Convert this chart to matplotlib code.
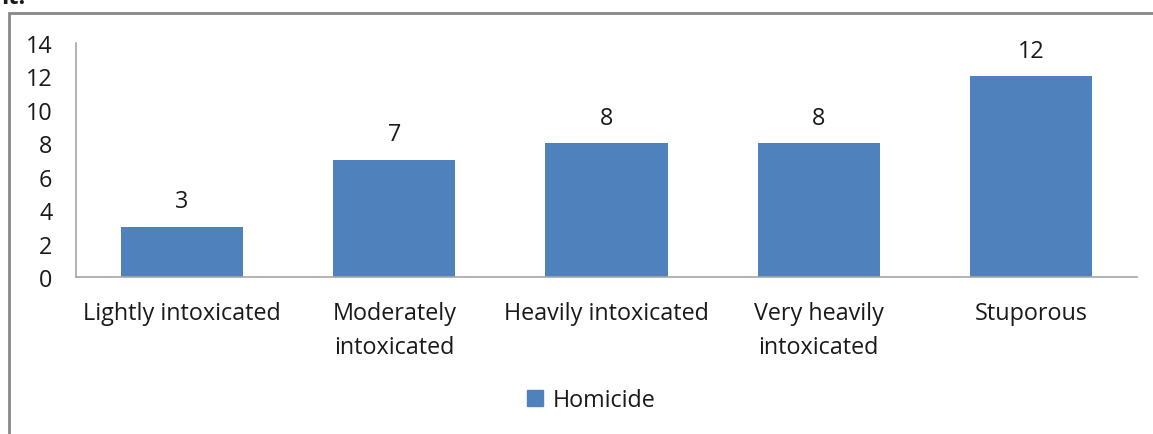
import matplotlib.pyplot as plt
from matplotlib.patches import Rectangle

categories = ["Lightly intoxicated", "Moderately\nintoxicated", "Heavily intoxicated",
              "Very heavily\nintoxicated", "Stuporous"]
homicide = [3, 7, 8, 8, 12]
yticks = [0, 2, 4, 6, 8, 10, 12, 14]

plt.rcParams['font.family'] = ['Open Sans', 'DejaVu Sans']
bar_color = '#4F81BD'
text_color = '#1a1a1a'
fs = 16.8

W, H = 1153, 435
fig = plt.figure(figsize=(W / 100, H / 100), dpi=100)

# outer chart frame (runs past the right and bottom edges of the crop)
fig.patches.append(Rectangle((9 / W, -0.2), 1.2, 1.2 - 14 / H,
                             transform=fig.transFigure, fill=False,
                             edgecolor='#888888', linewidth=2))
fig.text(1 / W, 1.0 + 2 / H, "it.", fontsize=17, fontweight='bold',
         va='center', ha='left', color=text_color)

ax = fig.add_axes([76 / W, 1 - 278 / H, (1137 - 76) / W, (278 - 44) / H])
x = range(len(categories))
bars = ax.bar(x, homicide, width=0.575, color=bar_color, zorder=2)
ax.set_xlim(-0.5, len(categories) - 0.5)
ax.set_ylim(0, 14)
ax.set_yticks(yticks)
ax.set_xticks(list(x))
ax.set_xticklabels(categories, fontsize=fs, color=text_color, linespacing=1.55)
ax.tick_params(axis='y', length=0, pad=17, labelsize=fs, labelcolor=text_color)
ax.tick_params(axis='x', length=0, pad=17)

for spine in ['top', 'right']:
    ax.spines[spine].set_visible(False)
for spine in ['left', 'bottom']:
    ax.spines[spine].set_color('#a6a6a6')
    ax.spines[spine].set_linewidth(1.2)

for b, v in zip(bars, homicide):
    ax.annotate(str(v), (b.get_x() + b.get_width() / 2, v), xytext=(0, 18.5),
                textcoords='offset points', ha='center', va='center',
                fontsize=fs, color=text_color)

leg = fig.legend([Rectangle((0, 0), 1, 1, color=bar_color)], ["Homicide"],
                 loc='center', bbox_to_anchor=(591 / W, 1 - 401 / H),
                 frameon=False, fontsize=fs, handlelength=0.7, handleheight=0.7,
                 handletextpad=0.4)
for t in leg.get_texts():
    t.set_color(text_color)

fig.savefig('out.png', dpi=100, facecolor='white')
